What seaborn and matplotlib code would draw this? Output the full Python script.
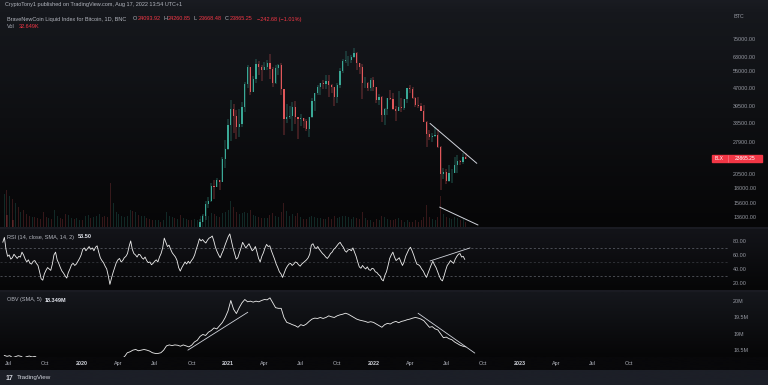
import numpy as np
import pandas as pd
import seaborn as sns
import matplotlib.pyplot as plt
import matplotlib.dates as mdates
from matplotlib.colors import LinearSegmentedColormap
from matplotlib.patches import Rectangle
from matplotlib.ticker import NullLocator

# weekly BNC bitcoin index, weeks starting 2019-06-17
week_start = "2019-06-17"
first_open = 9330
close = [10850, 10800, 11450, 10200, 10550, 9530, 11800, 11550, 10300, 10150,
         10500, 10450, 10300, 10000, 8250, 8150, 8300, 7950, 9200, 9300,
         8800, 8500, 7050, 7400, 7500, 7100, 7150, 7400, 7300, 8200,
         8700, 8600, 9350, 9900, 9900, 9660, 8550, 8050, 5400, 5850,
         6250, 6800, 6900, 7150, 7700, 8900, 8750, 9700, 8700, 9450,
         9650, 9350, 9300, 9050, 9100, 9250, 9170, 9700, 11050, 11700,
         11900, 11650, 11700, 10250, 10350, 10900, 10750, 10650, 11350, 11500,
         13030, 13780, 15480, 15960, 18400, 18180, 19350, 19150, 23730, 26270,
         33000, 38200, 36000, 32300, 33100, 38900, 48600, 57500, 45200, 51200,
         59000, 57500, 55800, 57100, 59800, 56200, 49000, 56600, 58200, 46400,
         34700, 35600, 35800, 39100, 35500, 34700, 35300, 34300, 31800, 35400,
         41500, 44500, 47100, 49000, 48800, 49900, 48300, 47300, 43200, 48200,
         54900, 60900, 61300, 61300, 63300, 65500, 59700, 57200, 49300, 49300,
         46700, 50800, 47300, 41800, 43100, 36300, 38200, 42400, 42200, 38400,
         37700, 38900, 38800, 42200, 46800, 46400, 42800, 39700, 39500, 37700,
         34000, 30100, 29400, 29500, 29900, 26600, 20500, 21000, 19300, 20800,
         20800, 22500, 23300, 23200, 24300, 23865]
high = [11200, 13880, 12000, 13200, 11100, 10650, 11900, 12300, 11500, 10950,
        10650, 10900, 10450, 10350, 10050, 8500, 8700, 8400, 10500, 9900,
        9500, 8900, 8500, 7850, 7750, 7600, 7520, 7650, 7450, 8450,
        9150, 8700, 9600, 10150, 10500, 10250, 9960, 9190, 8180, 6900,
        6950, 7200, 7460, 7300, 7800, 9470, 10000, 9920, 9850, 9600,
        10350, 9950, 9550, 9800, 9300, 9450, 9350, 9800, 12000, 11950,
        12300, 12450, 11800, 12100, 10600, 11100, 10950, 10950, 11500, 11700,
        13350, 14100, 15960, 16480, 18800, 19400, 19900, 19420, 24300, 28400,
        34800, 41950, 40100, 37800, 38500, 40950, 49700, 58300, 57500, 52600,
        61700, 60400, 58400, 60200, 61200, 64850, 57500, 58400, 59000, 59500,
        46600, 40300, 39400, 40900, 41300, 35500, 36600, 35300, 34700, 35400,
        42600, 44700, 48100, 49400, 50500, 52900, 52900, 48800, 47300, 49200,
        56500, 62000, 67000, 63700, 64300, 69000, 66300, 59700, 59100, 51900,
        49500, 51800, 52000, 47500, 44400, 43500, 38700, 42600, 45800, 44700,
        39600, 45400, 42500, 42300, 47000, 48200, 47200, 42900, 42900, 40800,
        40000, 34300, 31400, 30600, 32200, 31600, 26800, 21900, 21500, 22400,
        21500, 24200, 24600, 23600, 25200, 25100]
low = [8990, 10400, 9650, 10100, 9070, 9100, 9400, 11200, 9500, 9850,
       9350, 10100, 9950, 9850, 7800, 7900, 7850, 7900, 7350, 8970,
       8650, 8380, 6800, 6600, 7200, 7000, 6500, 7100, 6850, 7300,
       8100, 8250, 8500, 9100, 9720, 9300, 8400, 8000, 3850, 4450,
       5900, 5850, 6450, 6450, 6800, 7650, 8150, 8100, 8650, 8650,
       9300, 9200, 9200, 8850, 8900, 9050, 9100, 9140, 9940, 10900,
       11300, 11400, 11100, 9900, 9900, 10250, 10150, 10400, 10550, 11200,
       11400, 12980, 13300, 14830, 15800, 16200, 18100, 17600, 19000, 21900,
       25900, 28100, 30400, 28850, 29200, 32300, 37400, 47000, 44000, 45000,
       49200, 53300, 50300, 55600, 55500, 51300, 47100, 48800, 53000, 43900,
       30000, 33400, 34800, 31100, 33350, 28800, 32700, 32100, 31000, 29300,
       35200, 37500, 43800, 43900, 46400, 46600, 42900, 44700, 39600, 40800,
       46900, 54100, 59700, 58000, 59500, 62500, 55600, 53600, 42000, 46900,
       45700, 45600, 45700, 40600, 39700, 34000, 32950, 36300, 41700, 38000,
       34300, 37500, 37200, 38100, 40500, 44500, 42100, 39200, 38600, 37600,
       33700, 26700, 28600, 28000, 29300, 26500, 17600, 19700, 18700, 19100,
       18900, 20800, 20700, 22400, 22700, 23700]
volume = [30, 34, 28, 26, 22, 18, 14, 16, 12, 10, 9, 9, 8, 7, 14, 9, 8, 7, 16, 10,
          8, 7, 12, 11, 8, 7, 8, 6, 6, 10, 11, 8, 9, 10, 12, 9, 10, 9, 40, 22,
          14, 12, 10, 9, 10, 16, 15, 14, 11, 10, 10, 8, 7, 6, 6, 6, 5, 6, 14, 10,
          9, 8, 7, 11, 8, 7, 6, 6, 7, 6, 10, 11, 12, 10, 13, 12, 10, 9, 13, 14,
          16, 24, 18, 14, 12, 13, 14, 13, 16, 11, 10, 9, 8, 8, 8, 11, 13, 10, 9, 14,
          22, 15, 10, 12, 10, 13, 9, 7, 7, 9, 10, 9, 8, 8, 7, 7, 9, 7, 10, 8,
          9, 10, 10, 9, 7, 9, 8, 7, 14, 8, 6, 6, 5, 7, 6, 10, 9, 7, 6, 6,
          7, 8, 6, 5, 6, 5, 5, 6, 5, 6, 9, 20, 9, 7, 6, 9, 28, 12, 9, 8,
          7, 9, 8, 6, 7, 5]
obv = [18.34, 18.31, 18.33, 18.27, 18.30, 18.33, 18.31, 18.26, 18.30, 18.32,
       18.29, 18.31, 18.25, 18.20, 18.15, 18.12, 18.10, 18.08, 18.10, 18.12,
       18.10, 18.14, 18.16, 18.18, 18.20, 18.17, 18.15, 18.12, 18.10, 18.08,
       18.05, 18.00, 17.95, 17.90, 17.95, 18.00, 18.05, 17.90, 17.95, 18.05,
       18.10, 18.18, 18.25, 18.30, 18.42, 18.45, 18.50, 18.52, 18.48, 18.50,
       18.52, 18.50, 18.47, 18.42, 18.40, 18.40, 18.42, 18.50, 18.63, 18.66,
       18.64, 18.66, 18.65, 18.62, 18.66, 18.63, 18.60, 18.65, 18.75, 18.80,
       18.92, 18.98, 18.95, 19.05, 19.10, 19.18, 19.15, 19.25, 19.35, 19.50,
       19.70, 20.02, 19.75, 19.62, 19.80, 19.95, 20.05, 19.98, 20.00, 19.97,
       20.00, 19.98, 20.02, 20.05, 20.04, 20.10, 19.95, 19.80, 19.78, 19.78,
       19.50, 19.35, 19.32, 19.28, 19.25, 19.20, 19.28, 19.25, 19.30, 19.38,
       19.45, 19.48, 19.47, 19.50, 19.47, 19.50, 19.55, 19.52, 19.50, 19.55,
       19.58, 19.60, 19.63, 19.60, 19.55, 19.50, 19.45, 19.42, 19.40, 19.38,
       19.35, 19.37, 19.35, 19.30, 19.25, 19.20, 19.28, 19.32, 19.30, 19.35,
       19.38, 19.34, 19.38, 19.40, 19.43, 19.45, 19.48, 19.50, 19.48, 19.45,
       19.40, 19.30, 19.20, 19.22, 19.15, 19.12, 19.00, 18.88, 18.90, 18.85,
       18.82, 18.75, 18.70, 18.65, 18.62, 18.60]

# RSI(14) sampled every 4 days
rsi_start = "2019-06-17"
rsi = [78, 85, 68, 58, 60, 54, 56, 61, 58, 55, 58, 57, 64, 60, 54, 50, 53, 48, 47, 51,
       52, 48, 45, 36, 26, 24, 33, 38, 42, 40, 38, 47, 60, 64, 53, 48, 42, 37, 34, 30,
       27, 35, 40, 46, 48, 45, 47, 51, 55, 60, 68, 70, 66, 69, 72, 68, 70, 66, 71, 73,
       64, 56, 52, 49, 44, 40, 30, 18, 27, 35, 42, 49, 53, 55, 50, 52, 56, 58, 62, 72,
       80, 68, 62, 60, 57, 61, 60, 56, 54, 57, 52, 49, 50, 46, 48, 51, 53, 50, 57, 62,
       70, 84, 78, 72, 74, 68, 63, 60, 57, 52, 42, 37, 42, 46, 50, 47, 51, 48, 52, 55,
       60, 68, 75, 83, 80, 82, 79, 77, 81, 84, 85, 87, 80, 71, 65, 60, 56, 62, 67, 74,
       80, 86, 90, 80, 70, 62, 54, 56, 63, 70, 78, 74, 70, 73, 76, 71, 66, 68, 72, 64,
       55, 50, 58, 63, 70, 75, 72, 73, 66, 60, 54, 47, 42, 36, 33, 28, 34, 40, 44, 47,
       48, 45, 47, 50, 49, 46, 44, 47, 49, 51, 53, 56, 61, 74, 76, 71, 69, 72, 68, 65,
       62, 60, 57, 55, 58, 62, 64, 68, 70, 73, 76, 78, 74, 71, 66, 64, 67, 68, 66, 70,
       64, 58, 50, 43, 41, 45, 42, 40, 43, 39, 38, 41, 40, 36, 35, 32, 30, 25, 23, 31,
       36, 45, 55, 60, 64, 57, 52, 54, 56, 50, 45, 50, 58, 63, 68, 71, 66, 60, 53, 47,
       46, 44, 40, 37, 32, 28, 34, 40, 46, 51, 46, 42, 36, 30, 25, 23, 30, 38, 45, 48,
       52, 50, 48, 54, 58, 61, 62, 57, 58, 53.5]

price_ticks = [75000, 63000, 55000, 47000, 39500, 33500, 27900, 20500, 18000, 15600, 13600]
rsi_ticks = [80, 60, 40, 20]
obv_ticks = [20, 19.5, 19, 18.5]
obv_tick_labels = ["20M", "19.5M", "19M", "18.5M"]

# hand drawn trend lines (date, value)
price_upper = (["2022-05-21", "2022-09-15"], [33400, 22800])
price_lower = (["2022-06-14", "2022-09-18"], [15000, 12640])
rsi_line = (["2022-05-21", "2022-08-29"], [51.4, 70])
obv_up = (["2020-09-22", "2021-02-19"], [18.5, 19.66])
obv_down = (["2022-04-21", "2022-09-10"], [19.63, 18.41])

W, H = 768, 385
up_c, dn_c = "#3aa896", "#e0575a"
txt_c = "#b2b5be"

sns.set_theme(style="dark")
plt.rcParams['font.family'] = ['Liberation Sans', 'DejaVu Sans']

fig = plt.figure(figsize=(W / 100, H / 100), dpi=100)
fig.patch.set_facecolor("#08080a")

bg = fig.add_axes([0, 0, 1, 1])
bg.axis("off")


def grad(top, bottom, c1, c2):
    cmap = LinearSegmentedColormap.from_list("g", [c1, c2])
    bg.imshow(np.linspace(0, 1, 64).reshape(-1, 1), cmap=cmap, aspect="auto",
              extent=(0, W, bottom, top), origin="upper")


grad(0, 9, "#1a1c22", "#17191e")
grad(9, 227, "#16181d", "#060607")
grad(229, 290, "#131419", "#060607")
grad(292, 357, "#15171c", "#060607")
grad(357, 370, "#08080a", "#08080a")
grad(370, H, "#1c1f27", "#1c1f27")
bg.set_xlim(0, W)
bg.set_ylim(H, 0)
for yy in (228, 291):
    bg.plot([0, W], [yy, yy], color="#1e2027", lw=1.2)


def rect(top, bottom, left=0, right=729):
    return [left / W, 1 - bottom / H, (right - left) / W, (bottom - top) / H]


xmin = mdates.date2num(pd.Timestamp("2019-06-10"))
xmax = mdates.date2num(pd.Timestamp("2024-06-07"))

weeks = mdates.date2num(pd.date_range(week_start, periods=len(close), freq="7D")) + 3.5
opens = np.array([first_open] + close[:-1], dtype=float)
closes = np.array(close, dtype=float)
cols = [up_c if c >= o else dn_c for o, c in zip(opens, closes)]


def style(a):
    a.set_facecolor("none")
    for s in a.spines.values():
        s.set_visible(False)
    a.set_xlim(xmin, xmax)
    a.grid(False)
    a.set_xlabel("")
    a.set_ylabel("")
    a.yaxis.tick_right()
    a.tick_params(axis="y", length=0, pad=3, labelsize=3.9, labelcolor="#9598a1")
    a.tick_params(axis="x", bottom=False, labelbottom=False)


# volume behind candles
vax = fig.add_axes(rect(9, 227))
vax.bar(weeks, volume, width=2.5, color=cols, alpha=0.22, lw=0)
style(vax)
vax.set_ylim(0, max(volume) * 5)
vax.set_yticks([])

ax = fig.add_axes(rect(9, 227))
ax.set_yscale("log")
ax.vlines(weeks, low, high, colors=cols, lw=0.35)
ax.bar(weeks, closes - opens, bottom=opens, width=3.0, color=cols, lw=0)
ax.plot(mdates.date2num(pd.to_datetime(price_upper[0])), price_upper[1], color="#d1d4dc", lw=0.7)
ax.plot(mdates.date2num(pd.to_datetime(price_lower[0])), price_lower[1], color="#d1d4dc", lw=0.7)
style(ax)
ax.set_ylim(12400, 99800)
ax.yaxis.set_minor_locator(NullLocator())
ax.set_yticks(price_ticks)
ax.set_yticklabels([f"{p:.2f}" for p in price_ticks])

# RSI pane
rax = fig.add_axes(rect(229, 290))
rsi_x = mdates.date2num(pd.date_range(rsi_start, periods=len(rsi), freq="4D"))
for lvl, a in ((70, 0.8), (50, 0.45), (30, 0.8)):
    rax.axhline(lvl, color="#787b86", lw=0.5, ls=(0, (3, 3)), alpha=a)
sns.lineplot(x=rsi_x, y=rsi, ax=rax, color="#eeeeee", lw=0.6)
rax.plot(mdates.date2num(pd.to_datetime(rsi_line[0])), rsi_line[1], color="#d1d4dc", lw=0.6)
style(rax)
rax.set_ylim(10, 97)
rax.set_yticks(rsi_ticks)
rax.set_yticklabels([f"{v:.2f}" for v in rsi_ticks])

# OBV pane
oax = fig.add_axes(rect(292, 357))
sns.lineplot(x=weeks, y=obv, ax=oax, color="#eeeeee", lw=0.6)
oax.plot(mdates.date2num(pd.to_datetime(obv_up[0])), obv_up[1], color="#d1d4dc", lw=0.6)
oax.plot(mdates.date2num(pd.to_datetime(obv_down[0])), obv_down[1], color="#d1d4dc", lw=0.6)
style(oax)
oax.set_ylim(18.29, 20.28)
oax.set_yticks(obv_ticks)
oax.set_yticklabels(obv_tick_labels)

qs = pd.date_range("2019-07-01", "2023-10-01", freq="QS")
oax.set_xticks(mdates.date2num(qs))
oax.set_xticklabels([str(d.year) if d.month == 1 else d.strftime("%b") for d in qs])
oax.tick_params(axis="x", bottom=False, labelbottom=True, length=0, pad=3,
                labelsize=3.9, labelcolor=txt_c)
for lab, d in zip(oax.get_xticklabels(), qs):
    if d.month == 1:
        lab.set_fontweight("bold")
        lab.set_color("#d1d4dc")

# header and legend texts
fs = 4.0
bg.text(5, 4.5, "CryptoTony1 published on TradingView.com, Aug 17, 2022 13:54 UTC+1",
        color=txt_c, fontsize=fs, va="center")
bg.text(7, 19, "BraveNewCoin Liquid Index for Bitcoin, 1D, BNC", color=txt_c, fontsize=fs, va="center")
ohlc = [("O", "24093.92", 133), ("H", "24260.85", 163), ("L", "23668.48", 194), ("C", "23865.25", 225)]
for k, v, xx in ohlc:
    bg.text(xx, 19, k, color=txt_c, fontsize=fs, va="center")
    bg.text(xx + 4.5, 19, v, color="#f23645", fontsize=fs, va="center")
bg.text(257, 19, "\u2212242.68 (\u22121.01%)", color="#f23645", fontsize=fs, va="center")
bg.text(7, 27, "Vol", color=txt_c, fontsize=fs, va="center")
bg.text(19, 27, "32.649K", color="#f23645", fontsize=fs, va="center")
bg.text(733, 17, "BTC", color="#9598a1", fontsize=3.9, va="center")

bg.text(7, 237, "RSI (14, close, SMA, 14, 2)", color=txt_c, fontsize=fs, va="center")
bg.text(78, 237, "53.50", color="#e0e3eb", fontsize=fs, va="center", fontweight="bold")
bg.text(7, 300, "OBV (SMA, 5)", color=txt_c, fontsize=fs, va="center")
bg.text(45, 300, "18.349M", color="#e0e3eb", fontsize=fs, va="center", fontweight="bold")

# last price tag
bg.add_patch(Rectangle((712, 155), 50, 7, color="#f23645", zorder=5))
bg.plot([727.5, 727.5], [155, 162], color="#ff8a94", lw=0.4, zorder=6)
bg.text(719.5, 158.5, "BLX", color="white", fontsize=3.4, ha="center", va="center", zorder=7)
bg.text(745, 158.5, "23865.25", color="white", fontsize=3.6, ha="center", va="center", zorder=7)

# footer
bg.text(6, 378, "17", color="#d1d4dc", fontsize=5, fontweight="bold", va="center")
bg.text(17, 378, "TradingView", color="#d1d4dc", fontsize=4.5, va="center")

fig.savefig("out.png", dpi=100, facecolor=fig.get_facecolor())
